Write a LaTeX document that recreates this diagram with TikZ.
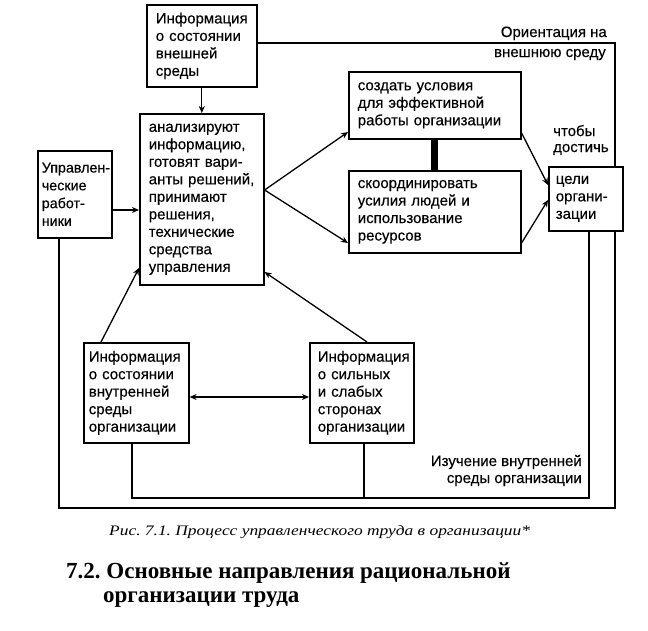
\documentclass[tikz,border=0pt]{standalone}
\usepackage{fontspec}
\setmainfont{Liberation Sans}[FakeBold=0.3]
\newfontfamily\capserif[FakeStretch=1.2]{Liberation Serif}
\newfontfamily\headserif{Liberation Serif}
\usetikzlibrary{arrows.meta,calc}
\hyphenpenalty=10000
\exhyphenpenalty=10000
\frenchspacing
\begin{document}
\begin{tikzpicture}[x=1pt,y=-1pt,
  box/.style={draw, line width=1.6pt, fill=white, align=left, inner ysep=0pt,
    font=\fontsize{15}{17.5}\selectfont, anchor=north west},
  lbl/.style={font=\fontsize{15}{17.5}\selectfont, inner sep=0pt},
  conn/.style={line width=1.3pt},
  arr/.style={line width=1.3pt, -{Stealth[length=7pt,width=6pt]}},
  darr/.style={line width=1.3pt, {Stealth[length=7pt,width=6pt]}-{Stealth[length=7pt,width=6pt]}}
]
\useasboundingbox (0,0) rectangle (648,630);

% boxes
\node[box, text width=92pt, inner xsep=9pt, minimum height=82pt] (ext) at (146,4)
  {\mbox{Информация}\\\mbox{о состоянии}\\внешней\\среды};
\node[box, text width=106pt, inner xsep=9pt, minimum height=171pt] (main) at (139,113)
  {анализируют\\информацию,\\\mbox{готовят вари-}\\\mbox{анты решений,}\\принимают\\решения,\\технические\\средства\\управления};
\node[box, text width=66pt, inner xsep=4pt, minimum height=87pt, font=\fontsize{14.3}{17.8}\selectfont] (upr) at (37,150)
  {\mbox{Управлен-}\\ческие\\\mbox{работ-}\\ники};
\node[box, text width=154pt, inner xsep=9pt, minimum height=67pt] (cond) at (348,71)
  {\mbox{создать условия}\\\mbox{для эффективной}\\\mbox{работы организации}};
\node[box, text width=154pt, inner xsep=9pt, minimum height=82pt] (coord) at (348,170)
  {скоординировать\\\mbox{усилия людей и}\\использование\\ресурсов};
\node[box, text width=60pt, inner xsep=7pt, minimum height=64pt] (goal) at (548,166)
  {цели\\\mbox{органи-}\\зации};
\node[box, text width=95pt, inner xsep=5pt, minimum height=100pt] (inint) at (83,342)
  {\mbox{Информация}\\\mbox{о состоянии}\\внутренней\\среды\\организации};
\node[box, text width=88pt, inner xsep=8pt, minimum height=100pt] (strong) at (309,342)
  {\mbox{Информация}\\\mbox{о сильных}\\\mbox{и слабых}\\сторонах\\организации};

% helper coordinates
\coordinate (xR) at (615,0);
\coordinate (xL) at (59,0);
\coordinate (xI) at (132,0);
\coordinate (xS) at (364,0);
\coordinate (xG) at (589,0);
\coordinate (xT) at (434,0);
\coordinate (xA) at (101,0);
\coordinate (xB) at (367,0);
\coordinate (yTop) at (0,43);
\coordinate (yOut) at (0,508);
\coordinate (yIn) at (0,498);

% outer loop
\draw[conn] (ext.east |- yTop) -- (xR |- yTop) -- (xR |- goal.north);
\draw[conn] (upr.south -| xL) -- (xL |- yOut) -- (xR |- yOut) -- (xR |- goal.south);
% inner loop
\draw[conn] (inint.south -| xI) -- (xI |- yIn) -- (xG |- yIn) -- (goal.south -| xG);
\draw[conn] (strong.south -| xS) -- (xS |- yIn);

% arrows
\draw[arr] (ext.south) -- (ext.south |- main.north);
\draw[arr] (upr.east |- 0,210) -- (main.west |- 0,210);
\draw[arr] (main.east |- 0,190) -- (cond.west |- 0,132);
\draw[arr] (main.east |- 0,190) -- (coord.west |- 0,243);
\draw[arr] (cond.east |- 0,133) -- (goal.west |- 0,185);
\draw[arr] (coord.east |- 0,243) -- (goal.west |- 0,200);
\draw[line width=7pt] (cond.south -| xT) -- (coord.north -| xT);
\draw[arr] (inint.north -| xA) -- (main.west |- 0,268);
\draw[arr] (strong.north -| xB) -- (main.east |- 0,272);
\draw[darr] (inint.east |- 0,397) -- (strong.west |- 0,397);

% labels
\node[lbl, anchor=base east] (or1) at (607,37) {Ориентация на};
\node[lbl, anchor=base east] (or2) at (606,57) {внешнюю среду};
\node[lbl, anchor=base west] (ch1) at (553,136) {чтобы};
\node[lbl, anchor=base west] (ch2) at (553,152) {достичь};
\node[lbl, anchor=base east] (iz1) at (582,466) {Изучение внутренней};
\node[lbl, anchor=base east] (iz2) at (582,483) {среды организации};

% caption and heading
\node[anchor=base west, inner sep=0pt, font=\capserif\itshape\fontsize{14.5}{17}\selectfont] (cap) at (109,535)
  {Рис. 7.1. Процесс управленческого труда в организации*};
\node[anchor=base west, inner sep=0pt, font=\headserif\bfseries\fontsize{23}{26}\selectfont] (t1) at (66,578)
  {7.2. Основные направления рациональной};
\node[anchor=base west, inner sep=0pt, font=\headserif\bfseries\fontsize{23}{26}\selectfont] (t2) at (103,602)
  {организации труда};
\end{tikzpicture}
\end{document}
